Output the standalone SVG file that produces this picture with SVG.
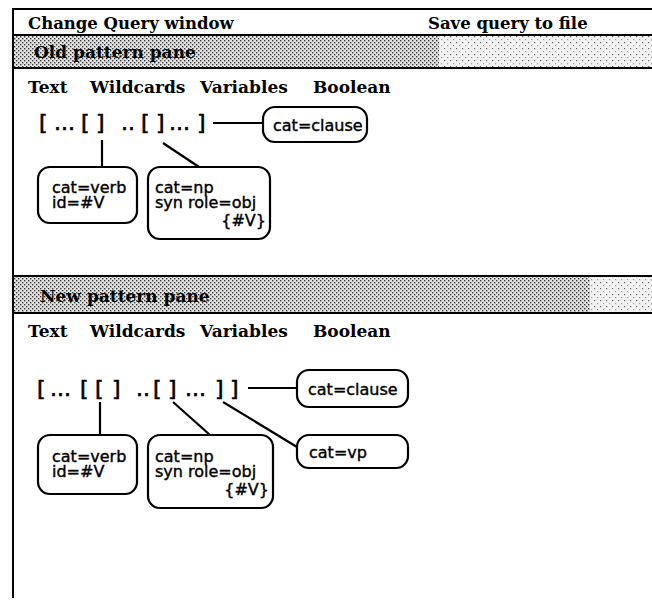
<svg xmlns="http://www.w3.org/2000/svg" width="652" height="601" viewBox="0 0 652 601">
<defs>
<pattern id="dots" width="4" height="4" patternUnits="userSpaceOnUse"><rect width="4" height="4" fill="#e2e2e2"/><rect x="0" y="0" width="1.4" height="1.4" fill="#3a3a3a"/><rect x="2" y="2" width="1.4" height="1.4" fill="#3a3a3a"/></pattern>
<pattern id="dotsLight" width="6" height="6" patternUnits="userSpaceOnUse"><rect width="6" height="6" fill="#f2f2f2"/><rect x="0" y="0" width="1.2" height="1.2" fill="#666"/><rect x="3" y="3" width="1.2" height="1.2" fill="#999"/></pattern>
<style>
.frame{stroke:#000;stroke-width:2;fill:none}
.menu{font-family:"DejaVu Serif","Liberation Serif",serif;font-weight:bold;font-size:17px;fill:#000}
.title{font-family:"DejaVu Serif","Liberation Serif",serif;font-weight:bold;font-size:16.5px;fill:#000}
.pat{font-family:"DejaVu Sans","Liberation Sans",sans-serif;font-size:22px;fill:#000;stroke:#000;stroke-width:0.6}
.lbl{font-family:"DejaVu Sans","Liberation Sans",sans-serif;font-size:16px;fill:#000;stroke:#000;stroke-width:0.4}
.box{fill:#fff;stroke:#000;stroke-width:2.2}
.conn{stroke:#000;stroke-width:2.2;fill:none}
</style>
</defs>
<rect width="652" height="601" fill="#fff"/>
<g id="window">
<line class="frame" x1="13" y1="9" x2="652" y2="9"/>
<line class="frame" x1="13" y1="8" x2="13" y2="598"/>
<text class="title" x="28" y="29">Change Query window</text>
<text class="title" x="428" y="29">Save query to file</text>
<line class="frame" x1="13" y1="35" x2="652" y2="35"/>
</g>
<g id="old-pane">
<rect x="14" y="36" width="425" height="31" fill="url(#dots)"/>
<rect x="439" y="36" width="213" height="31" fill="url(#dotsLight)"/>
<text class="menu" x="34" y="58">Old pattern pane</text>
<line class="frame" x1="13" y1="68" x2="652" y2="68"/>
<text class="menu" x="28" y="93">Text</text>
<text class="menu" x="90" y="93">Wildcards</text>
<text class="menu" x="200" y="93">Variables</text>
<text class="menu" x="313" y="93">Boolean</text>
<text class="pat" y="130"><tspan x="39">[</tspan><tspan x="54">...</tspan><tspan x="81">[</tspan><tspan x="96">]</tspan><tspan x="121">..</tspan><tspan x="141">[</tspan><tspan x="156">]</tspan><tspan x="169">...</tspan><tspan x="197">]</tspan></text>
</g>
<g id="old-clause">
<rect class="box" x="263" y="107" width="104" height="35" rx="12"/>
<text class="lbl" x="273" y="131">cat=clause</text>
</g>
<g id="old-verb">
<rect class="box" x="38" y="167" width="99" height="56" rx="12"/>
<text class="lbl" x="52" y="193">cat=verb</text>
<text class="lbl" x="52" y="208">id=#V</text>
</g>
<g id="old-np">
<rect class="box" x="148" y="167" width="122" height="72" rx="12"/>
<text class="lbl" x="155" y="193">cat=np</text>
<text class="lbl" x="155" y="208">syn role=obj</text>
<text class="lbl" x="266" y="226" text-anchor="end">{#V}</text>
</g>
<g id="new-pane">
<line class="frame" x1="13" y1="276" x2="652" y2="276"/>
<rect x="14" y="277" width="576" height="35" fill="url(#dots)"/>
<rect x="590" y="277" width="62" height="35" fill="url(#dotsLight)"/>
<text class="menu" x="40" y="302">New pattern pane</text>
<line class="frame" x1="13" y1="313" x2="652" y2="313"/>
<text class="menu" x="28" y="337">Text</text>
<text class="menu" x="90" y="337">Wildcards</text>
<text class="menu" x="200" y="337">Variables</text>
<text class="menu" x="313" y="337">Boolean</text>
<text class="pat" y="396"><tspan x="37">[</tspan><tspan x="50">...</tspan><tspan x="80">[</tspan><tspan x="95">[</tspan><tspan x="112">]</tspan><tspan x="136">..</tspan><tspan x="153">[</tspan><tspan x="168">]</tspan><tspan x="185">...</tspan><tspan x="215">]</tspan><tspan x="230">]</tspan></text>
</g>
<g id="new-clause">
<rect class="box" x="297" y="370" width="111" height="37" rx="12"/>
<text class="lbl" x="308" y="395">cat=clause</text>
</g>
<g id="new-vp">
<rect class="box" x="297" y="435" width="111" height="33" rx="12"/>
<text class="lbl" x="309" y="458">cat=vp</text>
</g>
<g id="new-verb">
<rect class="box" x="38" y="435" width="99" height="59" rx="12"/>
<text class="lbl" x="52" y="462">cat=verb</text>
<text class="lbl" x="52" y="477">id=#V</text>
</g>
<g id="new-np">
<rect class="box" x="148" y="435" width="125" height="73" rx="12"/>
<text class="lbl" x="155" y="462">cat=np</text>
<text class="lbl" x="155" y="477">syn role=obj</text>
<text class="lbl" x="269" y="495" text-anchor="end">{#V}</text>
</g>
<g id="connectors">
<line class="conn" x1="213" y1="123" x2="262" y2="123"/>
<line class="conn" x1="102" y1="140" x2="102" y2="167"/>
<line class="conn" x1="163" y1="143" x2="199" y2="167"/>
<line class="conn" x1="248" y1="388" x2="296" y2="388"/>
<line class="conn" x1="100" y1="402" x2="100" y2="435"/>
<line class="conn" x1="173" y1="402" x2="210" y2="435"/>
<line class="conn" x1="223" y1="402" x2="297" y2="447"/>
</g>
</svg>
